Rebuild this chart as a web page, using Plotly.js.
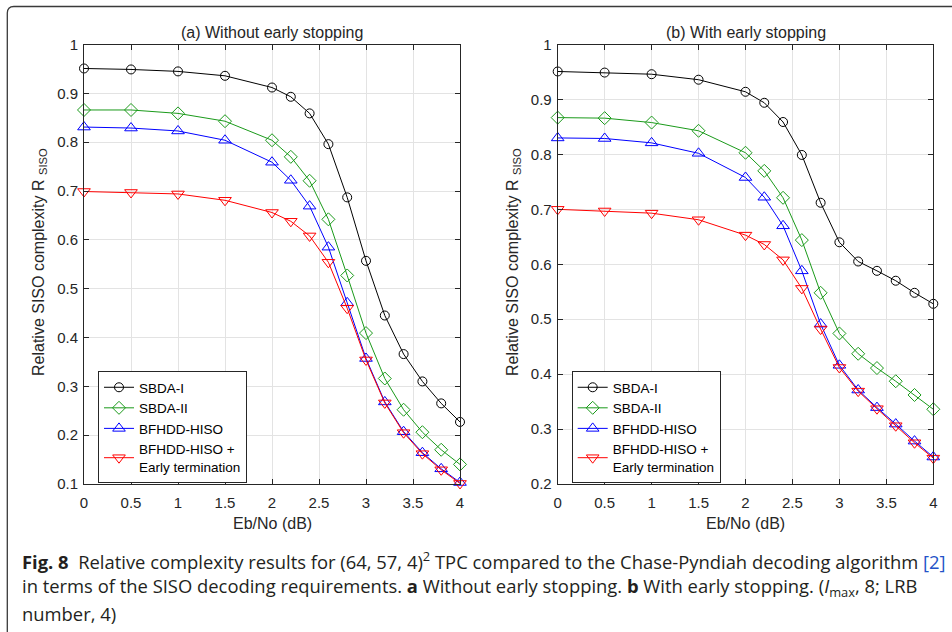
<!DOCTYPE html>
<html>
<head>
<meta charset="utf-8">
<script src="https://cdn.plot.ly/plotly-3.0.1.min.js"></script>
<style>html,body{margin:0;padding:0;background:#fff;}#chart{width:952px;height:632px;}</style>
</head>
<body>
<div id="chart"></div>
<script>
// Eb/No (dB)
const ebno = [0, 0.5, 1, 1.5, 2, 2.2, 2.4, 2.6, 2.8, 3, 3.2, 3.4, 3.6, 3.8, 4];
// (a) Without early stopping
const aSBDA1 = [0.951, 0.949, 0.945, 0.936, 0.912, 0.893, 0.859, 0.796, 0.687, 0.557, 0.445, 0.366, 0.310, 0.265, 0.227];
const aSBDA2 = [0.866, 0.866, 0.859, 0.843, 0.804, 0.770, 0.721, 0.642, 0.527, 0.409, 0.316, 0.252, 0.206, 0.170, 0.140];
const aBFHDD = [0.831, 0.829, 0.823, 0.804, 0.759, 0.722, 0.669, 0.585, 0.471, 0.357, 0.268, 0.207, 0.164, 0.131, 0.103];
const aBFHDDET = [0.699, 0.697, 0.694, 0.681, 0.656, 0.638, 0.608, 0.554, 0.460, 0.354, 0.266, 0.205, 0.162, 0.129, 0.101];
// (b) With early stopping
const bSBDA1 = [0.951, 0.949, 0.946, 0.936, 0.914, 0.894, 0.859, 0.799, 0.712, 0.640, 0.605, 0.588, 0.570, 0.548, 0.528];
const bSBDA2 = [0.867, 0.866, 0.858, 0.843, 0.803, 0.770, 0.721, 0.644, 0.548, 0.474, 0.437, 0.411, 0.387, 0.362, 0.336];
const bBFHDD = [0.830, 0.829, 0.821, 0.802, 0.758, 0.722, 0.670, 0.588, 0.491, 0.416, 0.371, 0.339, 0.309, 0.278, 0.249];
const bBFHDDET = [0.700, 0.697, 0.693, 0.681, 0.653, 0.636, 0.608, 0.556, 0.482, 0.412, 0.369, 0.337, 0.306, 0.275, 0.247];

const seriesNames = ["SBDA-I", "SBDA-II", "BFHDD-HISO", "BFHDD-HISO +<br>Early termination"];
const seriesColors = ["#000000", "#1a9a1a", "#0000ff", "#ff0000"];
const seriesSymbols = ["circle-open", "diamond-open", "triangle-up-open", "triangle-down-open"];
const seriesSizes = [9, 10, 11, 11];

const panelTitles = ["(a) Without early stopping", "(b) With early stopping"];
const xTitle = "Eb/No (dB)";
const yTitle = "Relative SISO complexity R <sub>SISO</sub>";
const captionLines = [
  "<b>Fig. 8</b>  Relative complexity results for (64, 57, 4)<sup>2</sup> TPC compared to the Chase-Pyndiah decoding algorithm <span style='color:#2453c8'>[2]</span>",
  "in terms of the SISO decoding requirements. <b>a</b> Without early stopping. <b>b</b> With early stopping. (<i>I</i><sub>max</sub>, 8; LRB",
  "number, 4)"
];

const panels = [
  {data: [aSBDA1, aSBDA2, aBFHDD, aBFHDDET], xa: "x", ya: "y", legend: "legend"},
  {data: [bSBDA1, bSBDA2, bBFHDD, bBFHDDET], xa: "x2", ya: "y2", legend: "legend2"}
];

const traces = [];
panels.forEach(p => {
  p.data.forEach((ys, i) => {
    traces.push({
      type: "scatter", mode: "lines+markers",
      x: ebno, y: ys, xaxis: p.xa, yaxis: p.ya, legend: p.legend,
      name: seriesNames[i], cliponaxis: false,
      line: {color: seriesColors[i], width: 1},
      marker: {symbol: seriesSymbols[i], size: seriesSizes[i], color: seriesColors[i], line: {color: seriesColors[i], width: 1}}
    });
  });
});

const W = 952, H = 632;
const px = v => v / W;
const py = v => 1 - v / H;
const FONT = "Liberation Sans, Arial, Helvetica, sans-serif";
const TXT = "#262626";

function xAxis(dom, anchor) {
  return {
    domain: dom, anchor: anchor, range: [0, 4], dtick: 0.5, tick0: 0,
    ticks: "inside", ticklen: 5, tickwidth: 1, tickcolor: TXT,
    showline: true, linecolor: TXT, linewidth: 1, mirror: "ticks",
    showgrid: true, gridcolor: "#e3e3e3", gridwidth: 1, zeroline: false,
    tickfont: {family: FONT, size: 15, color: TXT}, ticklabelstandoff: 5,
    fixedrange: true
  };
}
function yAxis(dom, anchor, lo) {
  return {
    domain: dom, anchor: anchor, range: [lo - 0.0001, 1.0001], dtick: 0.1, tick0: 0,
    ticks: "inside", ticklen: 5, tickwidth: 1, tickcolor: TXT,
    showline: true, linecolor: TXT, linewidth: 1, mirror: "ticks",
    showgrid: true, gridcolor: "#e3e3e3", gridwidth: 1, zeroline: false,
    tickfont: {family: FONT, size: 15, color: TXT}, ticklabelstandoff: 2,
    fixedrange: true
  };
}

const yDom = [1 - 484 / H, 1 - 44.5 / H];
const legendCommon = {
  xanchor: "left", yanchor: "top", bgcolor: "#ffffff", bordercolor: TXT, borderwidth: 1,
  font: {family: FONT, size: 13.5, color: "#000"}, tracegroupgap: 0, traceorder: "normal"
};

const annotations = [
  {text: panelTitles[0], x: px(272), y: py(32), xanchor: "center", yanchor: "middle"},
  {text: panelTitles[1], x: px(745.5), y: py(32), xanchor: "center", yanchor: "middle"},
  {text: xTitle, x: px(272), y: py(523), xanchor: "center", yanchor: "middle"},
  {text: xTitle, x: px(745.5), y: py(523), xanchor: "center", yanchor: "middle"},
  {text: yTitle, x: px(39), y: py(262), xanchor: "center", yanchor: "middle", textangle: -90},
  {text: yTitle, x: px(513), y: py(262), xanchor: "center", yanchor: "middle", textangle: -90}
].map(a => Object.assign({xref: "paper", yref: "paper", showarrow: false, font: {family: FONT, size: 16, color: TXT}}, a));

const CAPFONT = {family: "Open Sans, Noto Sans, sans-serif", size: 18.4, color: "#231f20"};
[560, 587, 613].forEach((yy, i) => {
  annotations.push({text: captionLines[i], xref: "paper", yref: "paper", x: px(20), y: py(yy),
    xanchor: "left", yanchor: "middle", showarrow: false, font: CAPFONT});
});

const layout = {
  width: W, height: H, margin: {l: 0, r: 0, t: 0, b: 0, autoexpand: false},
  paper_bgcolor: "#ffffff", plot_bgcolor: "#ffffff", showlegend: true,
  xaxis: xAxis([84 / W, 460 / W], "y"),
  yaxis: yAxis(yDom, "x", 0.1),
  xaxis2: xAxis([557.7 / W, 933.3 / W], "y2"),
  yaxis2: yAxis(yDom, "x2", 0.2),
  legend: Object.assign({x: px(98), y: py(371)}, legendCommon),
  legend2: Object.assign({x: px(571.7), y: py(371)}, legendCommon),
  annotations: annotations,
  shapes: [{
    type: "path", xref: "paper", yref: "paper", layer: "above",
    path: `M ${px(7.3)},${py(700)} L ${px(7.3)},${py(13)} Q ${px(7.3)},${py(6.5)} ${px(13.8)},${py(6.5)} L ${px(1000)},${py(6.5)}`,
    line: {color: "#3a3a3a", width: 1.3}
  }]
};

Plotly.newPlot("chart", traces, layout, {staticPlot: true, displayModeBar: false});
</script>
</body>
</html>
